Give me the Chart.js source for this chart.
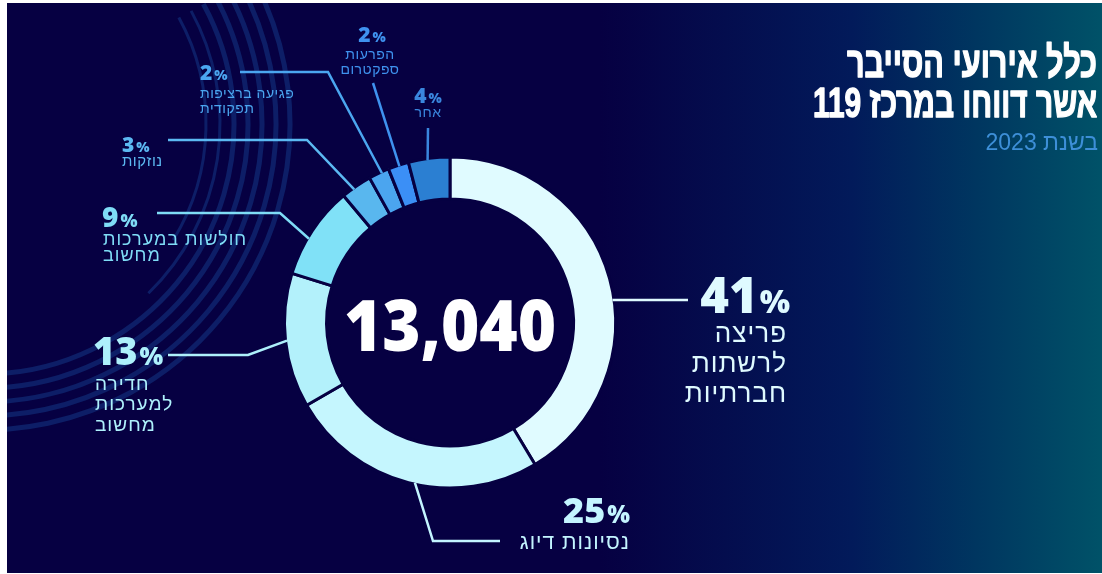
<!DOCTYPE html>
<html lang="he">
<head>
<meta charset="utf-8">
<script src="https://cdn.jsdelivr.net/npm/chart.js@4.4.1/dist/chart.umd.min.js"></script>
<style>
  html, body { margin: 0; padding: 0; background: #fff; }
  #wrap { width: 1102px; height: 574px; }
</style>
</head>
<body>
<div id="wrap"><canvas id="cyberChart" width="1102" height="574"></canvas></div>
<script>
// cyber events reported to the 119 centre, 2023
const categories = ['פריצה לרשתות חברתיות', 'נסיונות דיוג', 'חדירה למערכות מחשוב', 'חולשות במערכות מחשוב', 'נוזקות', 'פגיעה ברציפות תפקודית', 'הפרעות ספקטרום', 'אחר'];
const shares = [41, 25, 13, 9, 3, 2, 2, 4];
const labelLines = [
  ['פריצה', 'לרשתות', 'חברתיות'],
  ['נסיונות דיוג'],
  ['חדירה', 'למערכות', 'מחשוב'],
  ['חולשות במערכות', 'מחשוב'],
  ['נוזקות'],
  ['פגיעה ברציפות', 'תפקודית'],
  ['הפרעות', 'ספקטרום'],
  ['אחר']
];
const totalEvents = 13040;
const titleLines = ['כלל אירועי הסייבר', 'אשר דווחו במרכז 119'];
const subtitle = 'בשנת 2023';

const sliceColors = ['#e0fbff', '#c5f6fe', '#b3f1fb', '#80e1f7', '#59b7ee', '#4ba5ef', '#3b8ff6', '#2b7fd2'];
const labelColors = ['#dffaff', '#c4f5ff', '#aef0fb', '#7fdcf6', '#5cb9f2', '#4ba6f0', '#3f92ef', '#3a86de'];
const BG = '#060042';

const NUM_FONT = "'Open Sans', 'DejaVu Sans', sans-serif";
const HEB_FONT = "'Liberation Sans', 'DejaVu Sans', sans-serif";

// callout layout: t = where on the slice the leader starts, path = leader bends,
// x/y = percent anchor, pct/txt = font sizes, rows = centre y of each text row
const callouts = [
  { t: 0.551, path: [[688, 300]], x: 790, y: 313, align: 'right', pct: 49, txt: 26, tx: 787, rows: [335, 365, 395] },
  { t: 0.476, path: [[433, 541], [500, 541]], x: 630, y: 523, align: 'right', pct: 36, txt: 21, tx: 630, rows: [543] },
  { t: 0.50, path: [[248, 355], [168, 355]], x: 93, y: 365, align: 'left', pct: 38, txt: 19, tx: 95, rows: [385, 405, 426] },
  { t: 0.41, path: [[280, 213], [157, 213]], x: 102, y: 227, align: 'left', pct: 28, txt: 18, tx: 103, rows: [240, 256] },
  { t: 0.39, path: [[307, 140], [168, 140]], x: 122, y: 152, align: 'left', pct: 21, txt: 15, tx: 122, rows: [162] },
  { t: 0.63, path: [[328, 72], [240, 72]], x: 200, y: 80, align: 'left', pct: 21, txt: 14, tx: 200, rows: [94, 109] },
  { t: 0.53, path: [[373, 83]], x: 372, y: 42, align: 'center', pct: 21, txt: 14, tx: 370, rows: [55, 70] },
  { t: 0.46, path: [[428, 128]], x: 428, y: 103, align: 'center', pct: 21, txt: 14, tx: 428, rows: [113] }
];

const backdrop = {
  id: 'backdrop',
  beforeDraw(chart) {
    const ctx = chart.ctx;
    ctx.save();
    ctx.fillStyle = '#fff';
    ctx.fillRect(0, 0, chart.width, chart.height);
    const g = ctx.createLinearGradient(600, 0, 1102, 0);
    g.addColorStop(0, BG);
    g.addColorStop(0.5, '#021a5a');
    g.addColorStop(0.75, '#003660');
    g.addColorStop(1, '#005268');
    ctx.fillStyle = g;
    ctx.fillRect(7, 3, 1095, 570);
    // faint concentric arcs in the upper left
    ctx.beginPath();
    ctx.rect(7, 3, 1095, 570);
    ctx.clip();
    ctx.strokeStyle = 'rgba(30, 100, 190, 0.3)';
    ctx.lineWidth = 3;
    [[222, 0.55], [236, 0.8]].forEach(([r, end]) => {
      ctx.beginPath();
      ctx.arc(-16, 124, r, -0.5, end);
      ctx.stroke();
    });
    ctx.lineWidth = 5;
    [250, 264, 278, 292, 306].forEach(r => {
      ctx.beginPath();
      ctx.arc(-16, 124, r, -0.5, 1.65);
      ctx.stroke();
    });
    ctx.restore();
  }
};

function drawPercent(ctx, value, x, y, size, align, color) {
  const big = `800 ${size}px ${NUM_FONT}`;
  const small = `800 ${Math.round(size * 0.66)}px ${NUM_FONT}`;
  ctx.font = big;
  const w1 = ctx.measureText(String(value)).width;
  ctx.font = small;
  const w2 = ctx.measureText('%').width;
  const total = w1 + 2 + w2;
  const left = align === 'right' ? x - total : align === 'center' ? x - total / 2 : x;
  ctx.direction = 'ltr';
  ctx.textAlign = 'left';
  ctx.textBaseline = 'alphabetic';
  ctx.fillStyle = color;
  ctx.font = big;
  ctx.fillText(String(value), left, y);
  ctx.font = small;
  ctx.fillText('%', left + w1 + 2, y);
}

const callout = {
  id: 'callout',
  afterDatasetsDraw(chart) {
    const ctx = chart.ctx;
    const meta = chart.getDatasetMeta(0);
    ctx.save();
    meta.data.forEach((arc, i) => {
      const c = callouts[i];
      const p = arc.getProps(['x', 'y', 'startAngle', 'endAngle', 'outerRadius'], true);
      const a = p.startAngle + c.t * (p.endAngle - p.startAngle);
      const r = p.outerRadius - 1.5;
      ctx.beginPath();
      ctx.moveTo(p.x + r * Math.cos(a), p.y + r * Math.sin(a));
      c.path.forEach(pt => ctx.lineTo(pt[0], pt[1]));
      ctx.strokeStyle = labelColors[i];
      ctx.lineWidth = 2.5;
      ctx.lineJoin = 'miter';
      ctx.stroke();

      drawPercent(ctx, shares[i], c.x, c.y, c.pct, c.align, labelColors[i]);

      ctx.direction = 'rtl';
      ctx.textAlign = c.align;
      ctx.textBaseline = 'middle';
      ctx.letterSpacing = c.txt > 16 ? '1px' : '0.5px';
      ctx.font = `400 ${c.txt}px ${HEB_FONT}`;
      labelLines[i].forEach((line, k) => ctx.fillText(line, c.tx, c.rows[k]));
      ctx.letterSpacing = '0px';
    });

    // total in the hole
    const centre = meta.data[0].getProps(['x', 'y'], true);
    ctx.direction = 'ltr';
    ctx.textAlign = 'center';
    ctx.textBaseline = 'alphabetic';
    ctx.fillStyle = '#ffffff';
    ctx.font = `800 70px ${NUM_FONT}`;
    ctx.fillText(totalEvents.toLocaleString('en-US'), centre.x, centre.y + 28, 212);

    // heading, squeezed and thickened a little
    ctx.direction = 'rtl';
    ctx.textAlign = 'right';
    ctx.font = `700 43px ${HEB_FONT}`;
    ctx.strokeStyle = '#ffffff';
    ctx.lineWidth = 1.4;
    ctx.lineJoin = 'round';
    ctx.fillText(titleLines[0], 1097, 77, 250);
    ctx.strokeText(titleLines[0], 1097, 77, 250);
    ctx.fillText(titleLines[1], 1097, 117, 284);
    ctx.strokeText(titleLines[1], 1097, 117, 284);
    ctx.fillStyle = '#3d8fd8';
    ctx.font = `400 23px ${HEB_FONT}`;
    ctx.fillText(subtitle, 1098, 150, 117);
    ctx.restore();
  }
};

new Chart(document.getElementById('cyberChart'), {
  type: 'doughnut',
  data: {
    labels: categories,
    datasets: [{
      data: shares,
      backgroundColor: sliceColors,
      borderColor: BG,
      borderWidth: 3,
      hoverOffset: 0
    }]
  },
  options: {
    responsive: false,
    animation: false,
    devicePixelRatio: 1,
    radius: 165.5,
    cutout: '74.6%',
    layout: { padding: { left: 287, right: 489, top: 159, bottom: 88 } },
    plugins: {
      legend: { display: false },
      tooltip: { enabled: false }
    }
  },
  plugins: [backdrop, callout]
});
</script>
</body>
</html>
